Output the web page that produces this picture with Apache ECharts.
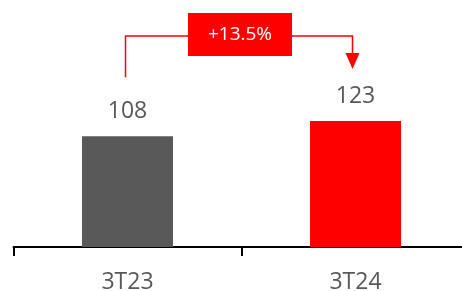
<!DOCTYPE html>
<html><head><meta charset="utf-8">
<script src="https://cdn.jsdelivr.net/npm/echarts@6/dist/echarts.min.js"></script>
<style>html,body{margin:0;padding:0;background:#fff}#c{width:462px;height:291px}</style>
</head><body><div id="c"></div>
<script>
var categories = ['3T23', '3T24'];
var values = [108, 123];
var barColors = ['#595959', '#ff0000'];
var changeLabel = '+13.5%';

var chart = echarts.init(document.getElementById('c'));
var font = '"Open Sans", "Noto Sans", sans-serif';
chart.setOption({
  animation: false,
  grid: { left: 13.5, width: 456, top: 42, height: 205, containLabel: false, outerBoundsMode: 'none' },
  xAxis: {
    type: 'category', data: categories,
    axisLine: { lineStyle: { color: '#000', width: 2 } },
    axisTick: { show: true, length: 9, lineStyle: { color: '#000', width: 2 } },
    axisLabel: { color: '#595959', fontSize: 23, fontFamily: font, margin: 24 }
  },
  yAxis: { type: 'value', min: 0, max: 200, show: false, splitLine: { show: false } },
  series: [{
    type: 'bar', barWidth: 91,
    data: values.map(function (v, i) { return { value: v, itemStyle: { color: barColors[i] } }; }),
    label: { show: true, position: 'top', distance: 13, color: '#595959', fontSize: 23, fontFamily: font }
  }]
});

var p1 = chart.convertToPixel({ xAxisIndex: 0, yAxisIndex: 0 }, [0, values[0]]);
var p2 = chart.convertToPixel({ xAxisIndex: 0, yAxisIndex: 0 }, [1, values[1]]);
var x1 = p1[0] - 2, x2 = p2[0] - 3;
var yTop = 36;
var y1 = p1[1] - 59;
var yTip = p2[1] - 52;
var midX = (x1 + x2) / 2 + 1;
chart.setOption({
  graphic: [
    { type: 'polyline', shape: { points: [[x1, y1], [x1, yTop], [x2, yTop], [x2, yTip - 14]] },
      style: { stroke: '#ff0000', lineWidth: 1.5, fill: null } },
    { type: 'polygon', shape: { points: [[x2 - 7, yTip - 16], [x2 + 7, yTip - 16], [x2, yTip]] },
      style: { fill: '#ff0000' } },
    { type: 'rect', shape: { x: midX - 52, y: 13, width: 104, height: 43 },
      style: { fill: '#ff0000' } },
    { type: 'text', x: midX, y: 34.5,
      style: { text: changeLabel, fill: '#fff', fontSize: 19, fontFamily: font, align: 'center', verticalAlign: 'middle' } }
  ]
});
</script></body></html>
